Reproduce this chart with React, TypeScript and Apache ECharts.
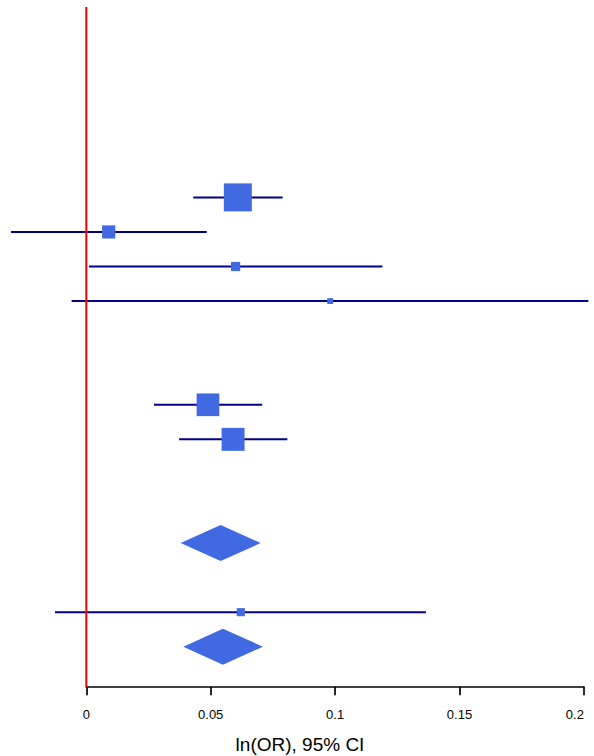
import React, { useEffect, useRef } from "react";
import * as echarts from "echarts";

// Study rows (top-down row index), estimates and 95% CI on ln(OR) scale
const studyRows = [5, 6, 7, 8, 11, 12, 17];
const estimates = [0.0609, 0.009, 0.06, 0.098, 0.0489, 0.059, 0.0621];
const lowerCI = [0.043, -0.0303, 0.0011, -0.0059, 0.0272, 0.0373, -0.0126];
const upperCI = [0.0789, 0.0484, 0.119, 0.2018, 0.0707, 0.0808, 0.1365];
const weights = [100, 47, 33, 21, 81, 82, 29];

// Summary (pooled) diamonds
const summaryRows = [15, 18];
const summaryEst = [0.054, 0.0549];
const summaryLower = [0.0379, 0.039];
const summaryUpper = [0.0701, 0.071];

const xTicks = [0, 0.05, 0.1, 0.15, 0.2];
const xTitle = "ln(OR), 95% CI";

const Y_MIN = -0.508;
const Y_MAX = 19.156;

const FONT = "Liberation Sans, Arial, Helvetica, sans-serif";

export default function App() {
  const ref = useRef<HTMLDivElement>(null);

  useEffect(() => {
    if (!ref.current) return;
    const chart = echarts.init(ref.current, null, { renderer: "svg" });

    const studyData = studyRows.map((r, i) => [
      estimates[i],
      r,
      lowerCI[i],
      upperCI[i],
      weights[i],
    ]);
    const summaryData = summaryRows.map((r, i) => [
      summaryEst[i],
      r,
      summaryLower[i],
      summaryUpper[i],
    ]);

    chart.setOption({
      animation: false,
      grid: {
        left: 86.3,
        right: 10.1,
        top: 7,
        bottom: 69.3,
        containLabel: false,
      },
      graphic: [
        {
          type: "text",
          x: 300,
          y: 744.5,
          style: {
            text: xTitle,
            fill: "#000",
            fontSize: 19,
            fontFamily: FONT,
            textAlign: "center",
            textVerticalAlign: "middle",
          },
        },
      ],
      xAxis: {
        type: "value",
        position: "bottom",
        min: xTicks[0],
        max: xTicks[xTicks.length - 1],
        interval: 0.05,
        splitLine: { show: false },
        axisLine: { show: true, onZero: false, lineStyle: { color: "#000", width: 1.7 } },
        axisTick: { show: true, length: 8.5, lineStyle: { color: "#000", width: 1.7 } },
        axisLabel: {
          color: "#000",
          fontSize: 13,
          fontFamily: FONT,
          margin: 21,
          alignMaxLabel: "right",
        },
      },
      yAxis: {
        type: "value",
        inverse: true,
        min: Y_MIN,
        max: Y_MAX,
        show: false,
      },
      series: [
        {
          type: "custom",
          clip: false,
          z: 2,
          data: studyData,
          encode: { x: [0, 2, 3], y: 1 },
          renderItem: (params: any, api: any) => {
            const r = api.value(1);
            const c = api.coord([api.value(0), r]);
            const l = api.coord([api.value(2), r]);
            const h = api.coord([api.value(3), r]);
            const s = (28 * api.value(4)) / 100;
            return {
              type: "group",
              children: [
                {
                  type: "line",
                  shape: { x1: l[0], y1: l[1], x2: h[0], y2: h[1] },
                  style: { stroke: "#00008B", lineWidth: 2 },
                },
                {
                  type: "rect",
                  shape: { x: c[0] - s / 2, y: c[1] - s / 2, width: s, height: s },
                  style: { fill: "#4169E1" },
                },
              ],
            };
          },
        },
        {
          type: "custom",
          clip: false,
          z: 2,
          data: summaryData,
          encode: { x: [0, 2, 3], y: 1 },
          renderItem: (params: any, api: any) => {
            const r = api.value(1);
            const e = api.value(0);
            const hh = 0.52;
            const pts = [
              api.coord([api.value(2), r]),
              api.coord([e, r - hh]),
              api.coord([api.value(3), r]),
              api.coord([e, r + hh]),
            ];
            return {
              type: "polygon",
              shape: { points: pts },
              style: { fill: "#4169E1" },
            };
          },
        },
        {
          type: "line",
          z: 5,
          symbol: "none",
          silent: true,
          data: [
            [0, Y_MIN],
            [0, Y_MAX],
          ],
          lineStyle: { color: "#FF0000", width: 2 },
        },
      ],
    });

    return () => chart.dispose();
  }, []);

  return (
    <div
      ref={ref}
      style={{ position: "fixed", left: 0, top: 0, width: 594, height: 756, background: "#fff" }}
    />
  );
}
